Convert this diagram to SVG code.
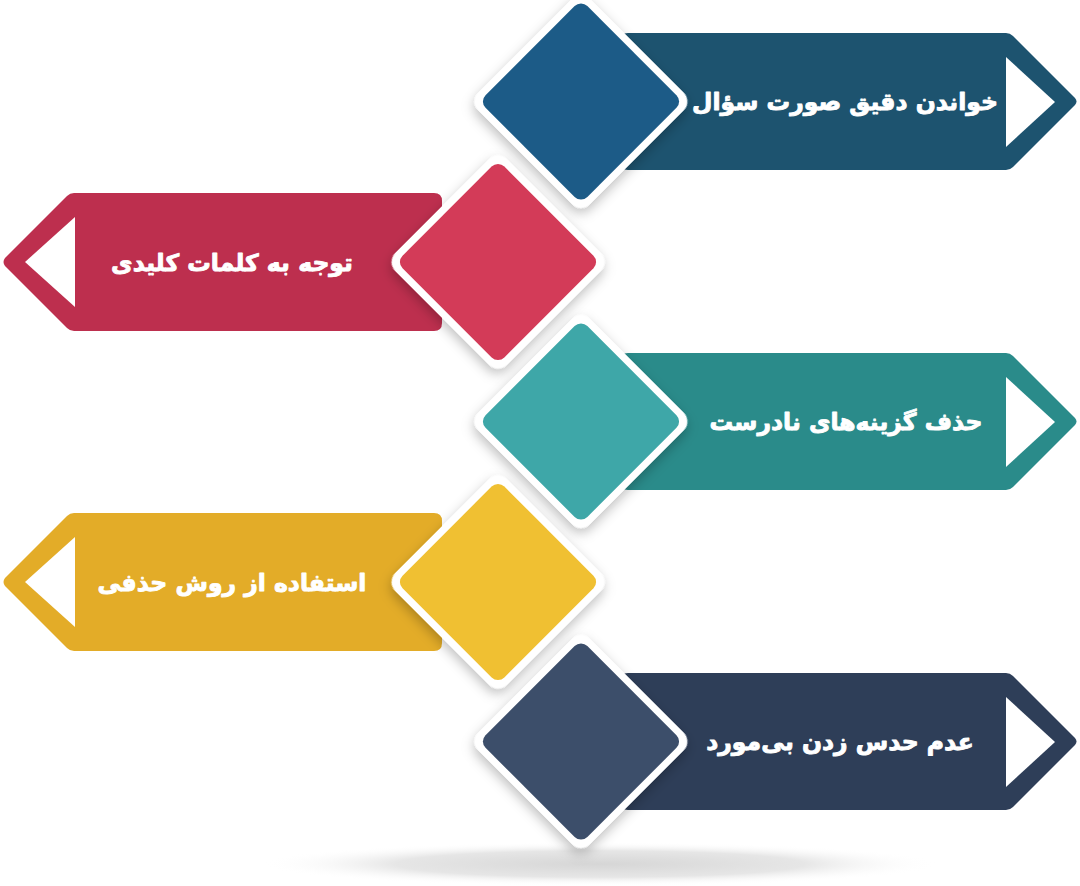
<svg xmlns="http://www.w3.org/2000/svg" width="1080" height="886" viewBox="0 0 1080 886">
<defs>
<style>
.lbl{font-family:"DejaVu Sans","Noto Sans",sans-serif;font-weight:bold;font-size:23.5px;fill:#ffffff;stroke:#ffffff;stroke-width:0.9px;stroke-linejoin:round;text-anchor:middle}
.tri{fill:#ffffff}
.wd{fill:#ffffff}
</style>
<filter id="sh" x="-30%" y="-30%" width="160%" height="160%">
<feDropShadow dx="3" dy="4" stdDeviation="6" flood-color="#000" flood-opacity="0.25"/>
</filter>
<radialGradient id="floor" cx="0.5" cy="0.5" r="0.5">
<stop offset="0" stop-color="#d6d6d6"/>
<stop offset="0.6" stop-color="#e6e6e6"/>
<stop offset="1" stop-color="#ffffff" stop-opacity="0"/>
</radialGradient>
</defs>
<rect width="1080" height="886" fill="#ffffff"/>
<ellipse cx="600" cy="864" rx="340" ry="22" fill="url(#floor)"/>
<g id="connectors"></g>

<g id="node1">
<path d="M628,33 H1006 Q1010,33 1013,36 L1075,98 Q1078,101.5 1075,105 L1013,167 Q1010,170 1006,170 H628 Q620,170 620,162 V41 Q620,33 628,33 Z" fill="#1d536f"/>
<polygon class="tri" points="1006,57 1006,147 1055,102"/>
<g transform="translate(581,101.5) rotate(45)">
<rect class="wd" x="-79" y="-79" width="158" height="158" rx="13" filter="url(#sh)"/>
<rect x="-72" y="-72" width="144" height="144" rx="9" fill="#1c5b87"/>
</g>
<text class="lbl" x="845" y="110" direction="rtl">خواندن دقیق صورت سؤال</text>
</g>

<g id="node2">
<path d="M434,193 H74 Q70,193 67,196 L5,258 Q2,262 5,266 L67,328 Q70,331 74,331 H434 Q442,331 442,323 V201 Q442,193 434,193 Z" fill="#bd2f4e"/>
<polygon class="tri" points="75,217 75,307 25,262"/>
<g transform="translate(498,262) rotate(45)">
<rect class="wd" x="-79" y="-79" width="158" height="158" rx="13" filter="url(#sh)"/>
<rect x="-72" y="-72" width="144" height="144" rx="9" fill="#d33b58"/>
</g>
<text class="lbl" x="232" y="271" direction="rtl">توجه به کلمات کلیدی</text>
</g>

<g id="node3">
<path d="M628,353 H1006 Q1010,353 1013,356 L1075,418 Q1078,421.5 1075,425 L1013,487 Q1010,490 1006,490 H628 Q620,490 620,482 V361 Q620,353 628,353 Z" fill="#2a8b8a"/>
<polygon class="tri" points="1006,377 1006,467 1055,422"/>
<g transform="translate(581,421.5) rotate(45)">
<rect class="wd" x="-79" y="-79" width="158" height="158" rx="13" filter="url(#sh)"/>
<rect x="-72" y="-72" width="144" height="144" rx="9" fill="#3ea7a8"/>
</g>
<text class="lbl" x="846" y="430" direction="rtl">حذف گزینه‌های نادرست</text>
</g>

<g id="node4">
<path d="M434,513 H74 Q70,513 67,516 L5,578 Q2,582 5,586 L67,648 Q70,651 74,651 H434 Q442,651 442,643 V521 Q442,513 434,513 Z" fill="#e3ac28"/>
<polygon class="tri" points="75,537 75,627 25,582"/>
<g transform="translate(498,582) rotate(45)">
<rect class="wd" x="-79" y="-79" width="158" height="158" rx="13" filter="url(#sh)"/>
<rect x="-72" y="-72" width="144" height="144" rx="9" fill="#f0c032"/>
</g>
<text class="lbl" x="232" y="591" direction="rtl">استفاده از روش حذفی</text>
</g>

<g id="node5">
<path d="M628,673 H1006 Q1010,673 1013,676 L1075,738 Q1078,741.5 1075,745 L1013,807 Q1010,810 1006,810 H628 Q620,810 620,802 V681 Q620,673 628,673 Z" fill="#2e3e58"/>
<polygon class="tri" points="1006,697 1006,787 1055,742"/>
<g transform="translate(581,741.5) rotate(45)">
<rect class="wd" x="-79" y="-79" width="158" height="158" rx="13" filter="url(#sh)"/>
<rect x="-72" y="-72" width="144" height="144" rx="9" fill="#3c4e6a"/>
</g>
<text class="lbl" x="840" y="750" direction="rtl">عدم حدس زدن بی‌مورد</text>
</g>
</svg>
